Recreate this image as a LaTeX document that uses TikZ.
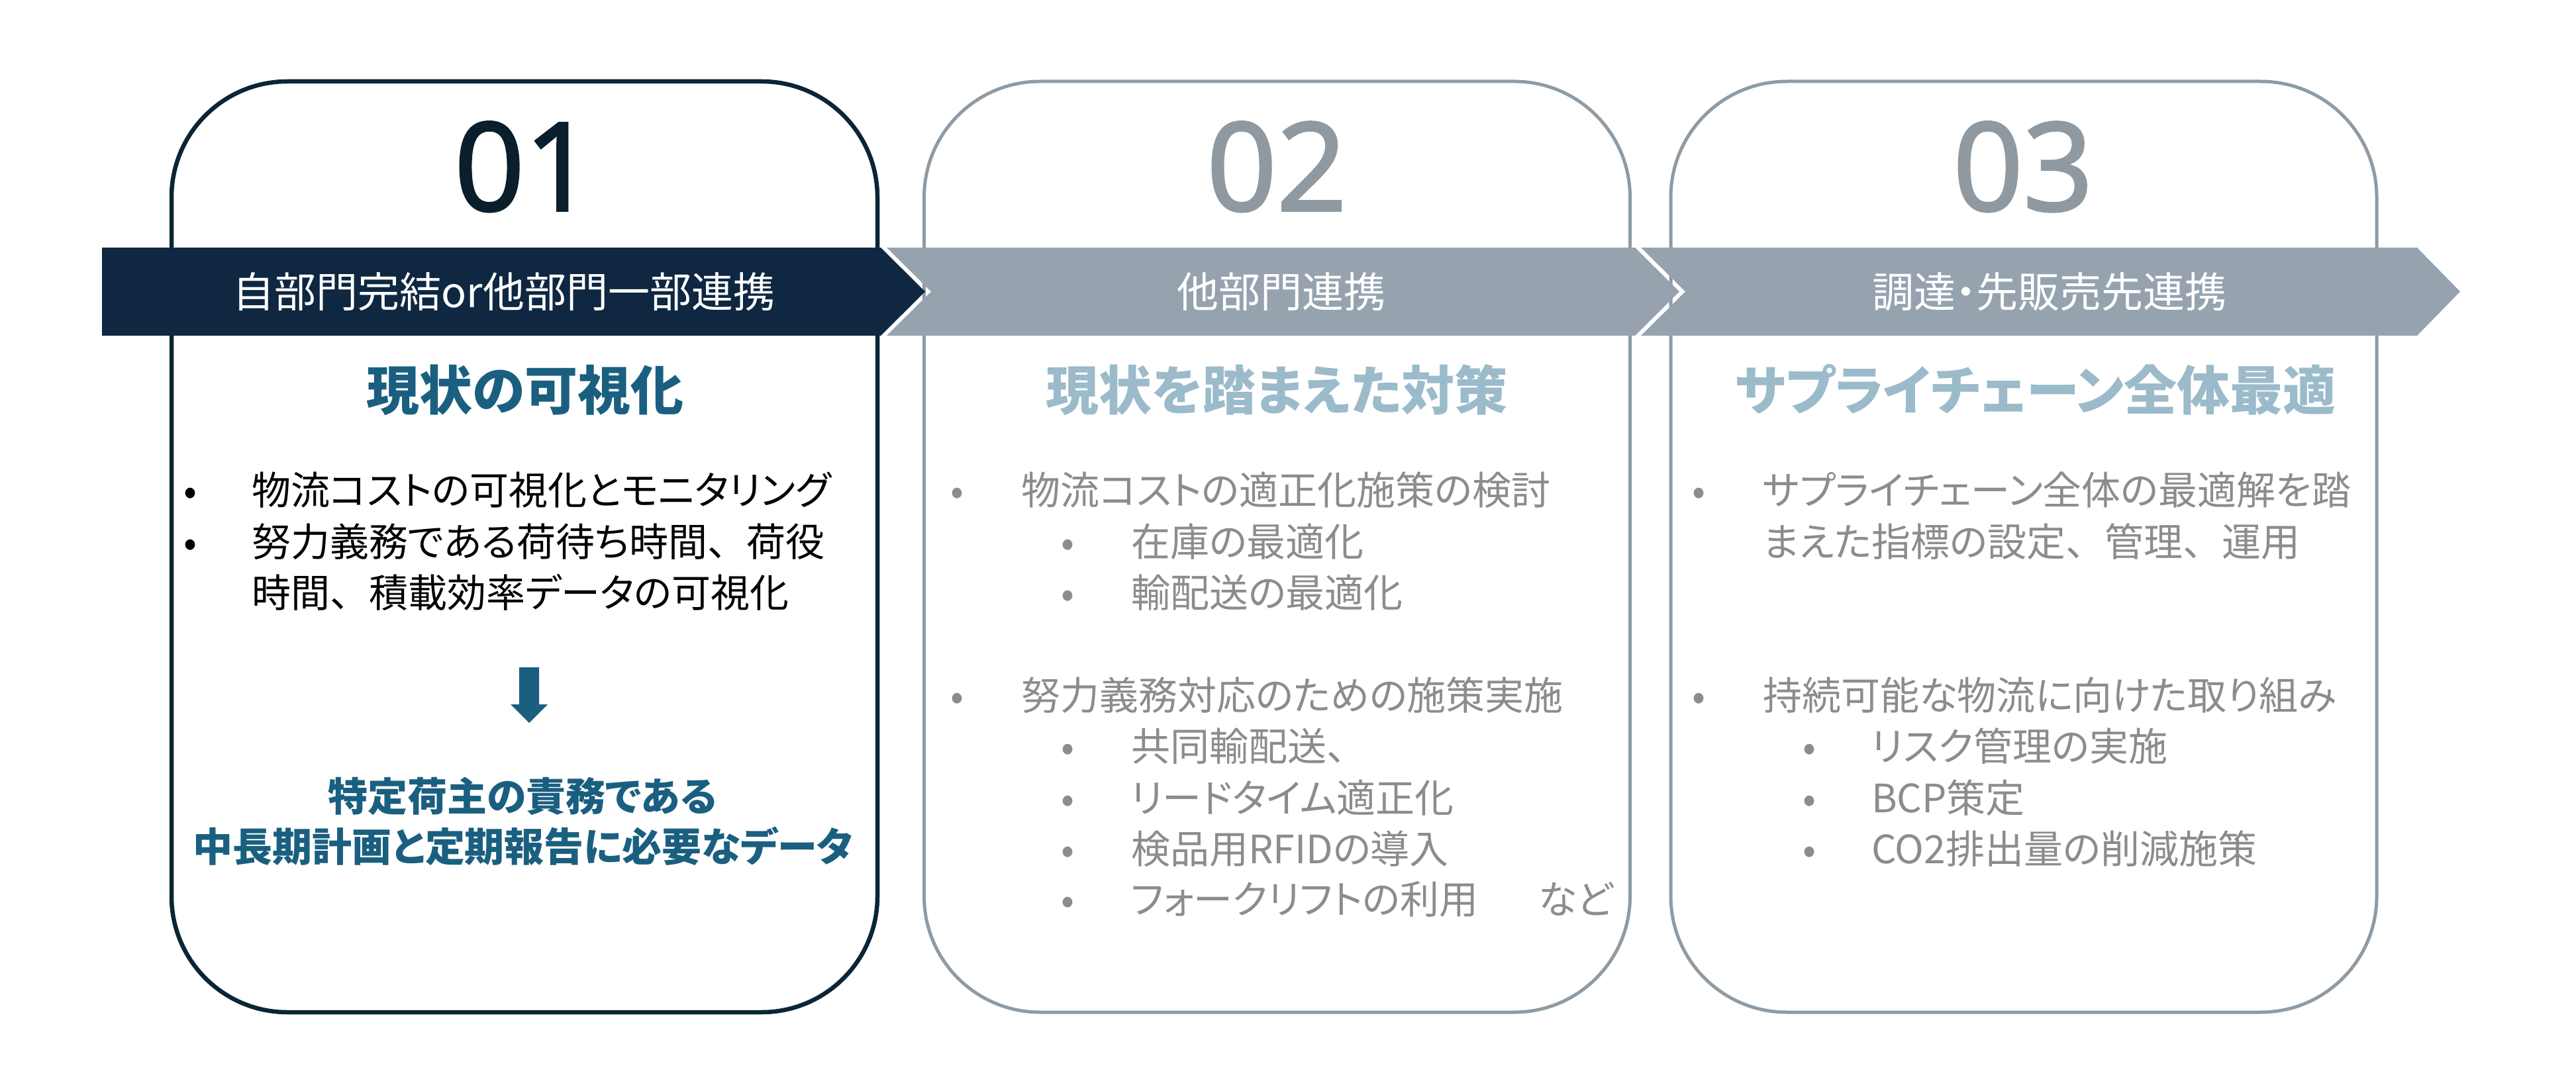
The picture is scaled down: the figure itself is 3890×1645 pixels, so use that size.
\documentclass[tikz,border=0pt]{standalone}
\usepackage{fontspec}
\setmainfont{Noto Sans CJK JP}[RawFeature=+palt]
\newfontfamily\jpfull{Noto Sans CJK JP}
\newfontfamily\numfont{Open Sans}[FakeBold=2]
\newcommand{\fwc}{{\jpfull 、}}
\definecolor{navy}{HTML}{0F2740}
\definecolor{bandgray}{HTML}{96A3AF}
\definecolor{darkline}{HTML}{0B2535}
\definecolor{grayline}{HTML}{8E9BA5}
\definecolor{teal}{HTML}{1A5F80}
\definecolor{lightteal}{HTML}{9BBBCB}
\definecolor{bodygray}{HTML}{8C8C8C}
\definecolor{numdark}{HTML}{0A1E2C}
\definecolor{numgray}{HTML}{8F999F}
\begin{document}
\begin{tikzpicture}[x=1pt,y=-1pt,
  every node/.style={inner sep=0pt,outer sep=0pt},
  card/.style={rounded corners=175pt, minimum width=1066pt, minimum height=1406pt},
  cardon/.style={card, draw=darkline, line width=6.5pt},
  cardoff/.style={card, draw=grayline, line width=5pt},
  bandtxt/.style={anchor=base, text=white, font=\fontsize{63}{70}\selectfont},
  numtxt/.style={anchor=base, font=\numfont\fontsize{185}{200}\selectfont},
  titletxt/.style={anchor=base, font=\bfseries\fontsize{80}{90}\selectfont},
  bodytxt/.style={anchor=base west, font=\fontsize{59}{70}\selectfont},
  bul/.style={anchor=base, font=\fontsize{59}{70}\selectfont},
  concl/.style={anchor=base, text=teal, font=\bfseries\fontsize{60}{70}\selectfont}]
\useasboundingbox (0,0) rectangle (3890,1645);
\fill[white] (0,0) rectangle (3890,1645);

% cards
\node[cardon]  (card1) at (792,826) {};
\node[cardoff] (card2) at (1928.5,826) {};
\node[cardoff] (card3) at (3056,826) {};

% bands
\fill[navy] (154,374) -- (1330,374) -- (1397,440.5) -- (1330,507) -- (154,507) -- cycle;
\fill[bandgray] (1339,374) -- (2469,374) -- (2536,440.5) -- (2469,507) -- (1339,507) -- (1406,440.5) -- cycle;
\fill[bandgray] (2478,374) -- (3650,374) -- (3715,440.5) -- (3650,507) -- (2478,507) -- (2545,440.5) -- cycle;
\node[bandtxt] (band1) at (761,464) {自部門完結or他部門一部連携};
\node[bandtxt] (band2) at (1935,464) {他部門連携};
\node[bandtxt] (band3) at (3095,464) {調達・先販売先連携};

% numbers
\node[numtxt, text=numdark] (num1) at (792,318) {01};
\node[numtxt, text=numgray] (num2) at (1928,318) {02};
\node[numtxt, text=numgray] (num3) at (3055,318) {03};

% titles
\node[titletxt, text=teal] (title1) at (793,619) {現状の可視化};
\node[titletxt, text=lightteal] (title2) at (1928,619) {現状を踏まえた対策};
\node[titletxt, text=lightteal] (title3) at (3074,619) {サプライチェーン全体最適};

% card 1 body
\node[bul] (b1a) at (288,762) {•};
\node[bodytxt] (t1a) at (380,762) {物流コストの可視化とモニタリング};
\node[bul] (b1b) at (288,840) {•};
\node[bodytxt] (t1b) at (380,840) {努力義務である荷待ち時間\fwc 荷役};
\node[bodytxt] (t1c) at (380,917) {時間\fwc 積載効率データの可視化};
\fill[teal] (784,1008) -- (814,1008) -- (814,1064) -- (827,1064) -- (799,1092) -- (771,1064) -- (784,1064) -- cycle;
\node[concl] (c1) at (789,1225) {特定荷主の責務である};
\node[concl] (c2) at (790,1301) {中長期計画と定期報告に必要なデータ};

% card 2 body
\begin{scope}[every node/.append style={text=bodygray}]
\node[bul] (b2a) at (1446,762) {•};
\node[bodytxt] (t2a) at (1542,762) {物流コストの適正化施策の検討};
\node[bul] (b2a1) at (1613,840) {•};
\node[bodytxt] (t2a1) at (1708,840) {在庫の最適化};
\node[bul] (b2a2) at (1613,917) {•};
\node[bodytxt] (t2a2) at (1708,917) {輸配送の最適化};
\node[bul] (b2b) at (1446,1072) {•};
\node[bodytxt] (t2b) at (1542,1072) {努力義務対応のための施策実施};
\node[bul] (b2b1) at (1613,1149) {•};
\node[bodytxt] (t2b1) at (1708,1149) {共同輸配送\fwc};
\node[bul] (b2b2) at (1613,1227) {•};
\node[bodytxt] (t2b2) at (1708,1227) {リードタイム適正化};
\node[bul] (b2b3) at (1613,1304) {•};
\node[bodytxt] (t2b3) at (1708,1304) {検品用RFIDの導入};
\node[bul] (b2b4) at (1613,1380) {•};
\node[bodytxt] (t2b4) at (1708,1380) {フォークリフトの利用};
\node[bodytxt] (t2etc) at (2323,1380) {など};

% card 3 body
\node[bul] (b3a) at (2565,762) {•};
\node[bodytxt] (t3a) at (2662,762) {サプライチェーン全体の最適解を踏};
\node[bodytxt] (t3a2) at (2662,840) {まえた指標の設定\fwc 管理\fwc 運用};
\node[bul] (b3b) at (2565,1072) {•};
\node[bodytxt] (t3b) at (2662,1072) {持続可能な物流に向けた取り組み};
\node[bul] (b3b1) at (2732,1149) {•};
\node[bodytxt] (t3b1) at (2826,1149) {リスク管理の実施};
\node[bul] (b3b2) at (2732,1227) {•};
\node[bodytxt] (t3b2) at (2826,1227) {BCP策定};
\node[bul] (b3b3) at (2732,1304) {•};
\node[bodytxt] (t3b3) at (2826,1304) {CO2排出量の削減施策};
\end{scope}
\end{tikzpicture}
\end{document}
